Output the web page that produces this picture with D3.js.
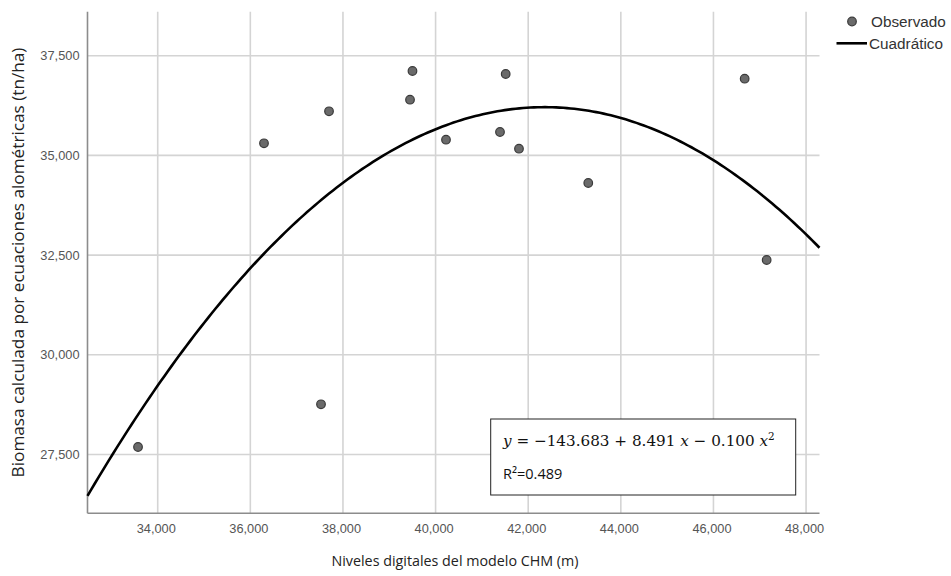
<!DOCTYPE html>
<html>
<head>
<meta charset="utf-8">
<script src="https://cdn.jsdelivr.net/npm/d3@7"></script>
<style>
  html, body { margin: 0; padding: 0; background: #fff; }
  svg { display: block; }
</style>
</head>
<body>
<svg id="chart" width="951" height="576"></svg>
<script>
// ---- Data ----
const obsX = [33575, 36295, 37526, 37699, 39448, 39501, 40225, 41391, 41514, 41801, 43297, 46674, 47149];
const obsY = [27688, 35303, 28759, 36106, 36397, 37116, 35394, 35587, 37041, 35168, 34308, 36923, 32377];

// Points on the quadratic fit curve
const curveX = [32484, 34086, 34913, 36000, 38000, 40000, 42000, 42319, 44000, 46000, 48000, 48290];
const curveY = [26485, 29368, 30622, 32209, 34300, 35637, 36196, 36206, 35955, 34927, 32966, 32700];

const xTicks = [34000, 36000, 38000, 40000, 42000, 44000, 46000, 48000];
const yTicks = [27500, 30000, 32500, 35000, 37500];

const xDomain = [32484, 48290];
const yDomain = [26026, 38603];

const legendLabels = ["Observado", "Cuadrático"];
const xTitle = "Niveles digitales del modelo CHM (m)";
const yTitle = "Biomasa calculada por ecuaciones alométricas (tn/ha)";
const rSquared = "R²=0.489";

// ---- Layout ----
const svg = d3.select("#chart");
const plot = { left: 87.5, right: 819.5, top: 11.7, bottom: 513.3 };

const x = d3.scaleLinear().domain(xDomain).range([plot.left, plot.right]);
const y = d3.scaleLinear().domain(yDomain).range([plot.bottom, plot.top]);
const fmt = d3.format(",");

const gridColor = "#d4d4d4";
const axisColor = "#8c8c8c";
const tickFont = "'Liberation Sans', Arial, sans-serif";

// Grid lines
svg.append("g").selectAll("line").data(xTicks).join("line")
  .attr("x1", d => x(d)).attr("x2", d => x(d))
  .attr("y1", plot.top).attr("y2", plot.bottom)
  .attr("stroke", gridColor).attr("stroke-width", 1.6);

svg.append("g").selectAll("line").data(yTicks).join("line")
  .attr("x1", plot.left).attr("x2", plot.right)
  .attr("y1", d => y(d)).attr("y2", d => y(d))
  .attr("stroke", gridColor).attr("stroke-width", 1.6);

// Axes (d3 axes for labels, no tick marks)
const xAxis = d3.axisBottom(x).tickValues(xTicks).tickFormat(fmt).tickSize(0).tickPadding(11);
const yAxis = d3.axisLeft(y).tickValues(yTicks).tickFormat(fmt).tickSize(0).tickPadding(8);

const gx = svg.append("g").attr("transform", `translate(-2,${plot.bottom})`).call(xAxis);
const gy = svg.append("g").attr("transform", `translate(${plot.left},0)`).call(yAxis);
[gx, gy].forEach(g => {
  g.select(".domain").remove();
  g.selectAll("text").attr("font-family", tickFont).attr("font-size", 12.8).attr("fill", "#555");
});

// Axis lines
svg.append("line").attr("x1", plot.left).attr("x2", plot.left)
  .attr("y1", plot.top).attr("y2", plot.bottom)
  .attr("stroke", axisColor).attr("stroke-width", 1.6);
svg.append("line").attr("x1", plot.left).attr("x2", plot.right)
  .attr("y1", plot.bottom).attr("y2", plot.bottom)
  .attr("stroke", axisColor).attr("stroke-width", 1.6);

// Quadratic least-squares through the read curve points, then drawn smoothly
function quadFit(xs, ys) {
  const n = xs.length;
  const u = xs.map(v => v / 1000);
  let s = [0, 0, 0, 0, 0], t = [0, 0, 0];
  for (let i = 0; i < n; i++) {
    let p = 1;
    for (let k = 0; k < 5; k++) { s[k] += p; p *= u[i]; }
    t[0] += ys[i]; t[1] += ys[i] * u[i]; t[2] += ys[i] * u[i] * u[i];
  }
  const A = [[s[0], s[1], s[2], t[0]], [s[1], s[2], s[3], t[1]], [s[2], s[3], s[4], t[2]]];
  for (let c = 0; c < 3; c++) {
    for (let r = c + 1; r < 3; r++) {
      const f = A[r][c] / A[c][c];
      for (let k = c; k < 4; k++) A[r][k] -= f * A[c][k];
    }
  }
  const b = [0, 0, 0];
  for (let r = 2; r >= 0; r--) {
    let acc = A[r][3];
    for (let k = r + 1; k < 3; k++) acc -= A[r][k] * b[k];
    b[r] = acc / A[r][r];
  }
  return v => { const w = v / 1000; return b[0] + b[1] * w + b[2] * w * w; };
}
const fit = quadFit(curveX, curveY);
const xs = d3.range(0, 201).map(i => xDomain[0] + (xDomain[1] - xDomain[0]) * i / 200);
const line = d3.line().x(d => x(d)).y(d => y(fit(d)));
svg.append("path").datum(xs).attr("d", line)
  .attr("fill", "none").attr("stroke", "#000").attr("stroke-width", 2.6);

// Observed points
svg.append("g").selectAll("circle").data(obsX).join("circle")
  .attr("cx", d => x(d)).attr("cy", (d, i) => y(obsY[i]))
  .attr("r", 4.3)
  .attr("fill", "#6a6a6a").attr("stroke", "#3a3a3a").attr("stroke-width", 1.2);

// Equation box
const box = { x: 490.7, y: 419, w: 305, h: 76 };
svg.append("rect").attr("x", box.x).attr("y", box.y).attr("width", box.w).attr("height", box.h)
  .attr("fill", "#fff").attr("stroke", "#222").attr("stroke-width", 1);

const eq = svg.append("text").attr("x", 503).attr("y", 446)
  .attr("font-family", "'DejaVu Serif', 'Liberation Serif', serif").attr("font-size", 15.2).attr("fill", "#111");
eq.append("tspan").attr("font-style", "italic").text("y");
eq.append("tspan").text(" = −143.683 + 8.491 ");
eq.append("tspan").attr("font-style", "italic").text("x");
eq.append("tspan").text(" − 0.100 ");
eq.append("tspan").attr("font-style", "italic").text("x");
eq.append("tspan").attr("dy", -6).attr("font-size", 10.5).text("2");

svg.append("text").attr("x", 503).attr("y", 478.5)
  .attr("font-family", "'Open Sans', 'Noto Sans', sans-serif").attr("font-size", 14.5).attr("fill", "#111")
  .text(rSquared);

// Axis titles
svg.append("text").attr("x", 455).attr("y", 566)
  .attr("text-anchor", "middle")
  .attr("font-family", "'Open Sans', 'Noto Sans', sans-serif").attr("font-size", 14.3).attr("fill", "#222")
  .text(xTitle);

svg.append("text")
  .attr("transform", `translate(24,${(plot.top + plot.bottom) / 2}) rotate(-90)`)
  .attr("text-anchor", "middle")
  .attr("font-family", "'Open Sans', 'Noto Sans', sans-serif").attr("font-size", 17.2).attr("fill", "#222")
  .text(yTitle);

// Legend
const lg = svg.append("g");
lg.append("circle").attr("cx", 852).attr("cy", 21.5).attr("r", 4.3)
  .attr("fill", "#6a6a6a").attr("stroke", "#3a3a3a").attr("stroke-width", 1.2);
lg.append("text").attr("x", 871).attr("y", 27)
  .attr("font-family", tickFont).attr("font-size", 15.3).attr("fill", "#333").text(legendLabels[0]);
lg.append("line").attr("x1", 836.5).attr("x2", 867).attr("y1", 43.3).attr("y2", 43.3)
  .attr("stroke", "#000").attr("stroke-width", 2.6);
lg.append("text").attr("x", 869).attr("y", 48.8)
  .attr("font-family", tickFont).attr("font-size", 15.3).attr("fill", "#333").text(legendLabels[1]);
</script>
</body>
</html>
